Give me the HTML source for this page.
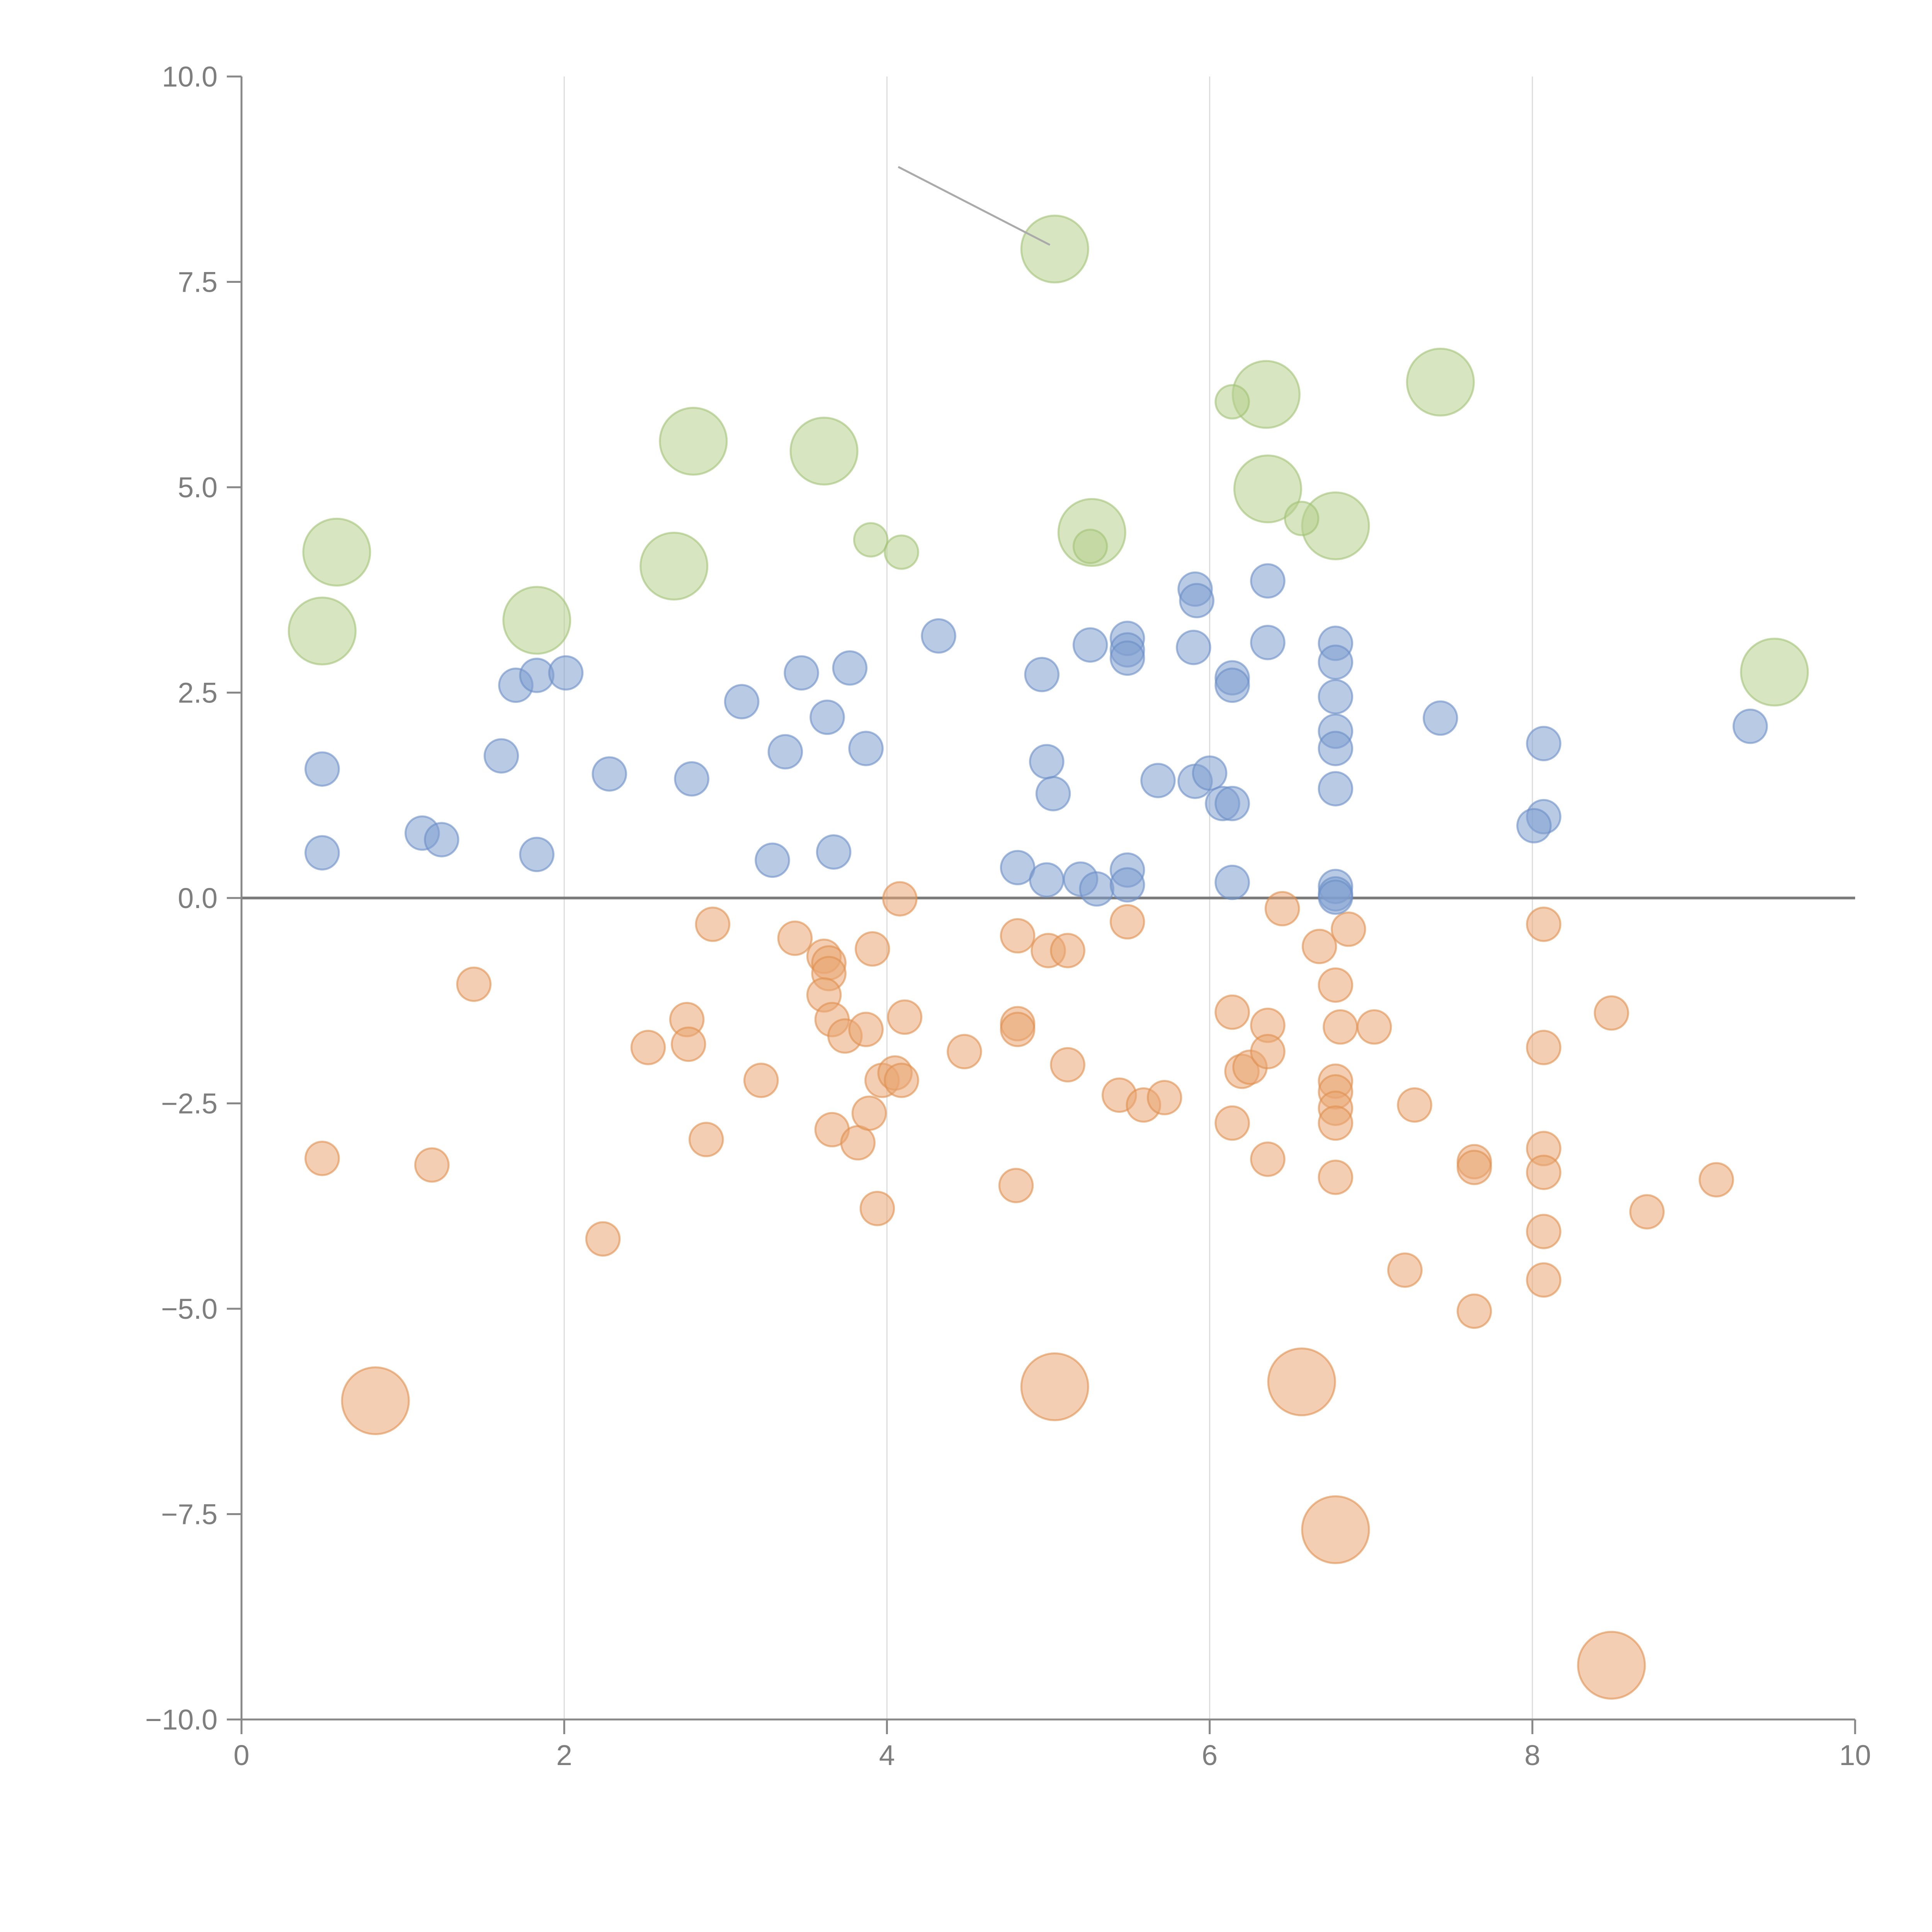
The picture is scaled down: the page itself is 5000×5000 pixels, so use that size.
<!DOCTYPE html>
<html><head><meta charset="utf-8"><style>
html,body{margin:0;padding:0;background:#fff;}
svg{display:block;font-family:"Liberation Sans",Arial,sans-serif;}
</style></head><body>
<svg id="chart" width="5000" height="5000" viewBox="0 0 5000 5000" xmlns="http://www.w3.org/2000/svg">
<g id="grid"></g>
<g id="marks"></g>
<g id="axes"></g>
</svg>
<script>
const xTicks=[0,2,4,6,8,10];
const yTicks=[10,7.5,5,2.5,0,-2.5,-5,-7.5,-10];
const yTickLabels=["10.0","7.5","5.0","2.5","0.0","\u22122.5","\u22125.0","\u22127.5","\u221210.0"];
const blueX=[0.5,0.5,1.12,1.24,1.61,1.7,1.83,2.01,1.83,2.28,2.79,3.1,3.37,3.47,3.29,3.63,3.77,3.87,3.67,4.32,4.96,4.99,5.03,4.81,4.99,5.2,5.3,5.26,5.49,5.49,5.49,5.49,5.49,5.68,5.9,5.91,5.92,5.91,6.0,6.08,6.14,6.14,6.14,6.14,6.36,6.36,6.78,6.78,6.78,6.78,6.78,6.78,6.78,6.78,6.78,7.43,8.07,8.07,8.01,9.35];
const blueY=[1.57,0.55,0.79,0.71,1.73,2.59,2.71,2.74,0.53,1.51,1.45,2.39,1.78,2.74,0.46,2.2,2.8,1.82,0.56,3.19,2.72,1.66,1.27,0.37,0.22,0.23,0.11,3.08,3.16,3.02,2.92,0.34,0.16,1.43,3.05,3.76,3.62,1.42,1.52,1.15,1.15,2.68,2.59,0.19,3.86,3.11,3.1,2.87,2.45,2.03,1.82,1.33,0.14,0.05,0.01,2.19,1.88,0.99,0.88,2.09];
const greenX=[0.59,0.5,1.83,2.68,2.8,3.61,5.04,5.27,6.35,6.36,6.78,7.43,9.5,3.9,4.09,5.26,6.14,6.57];
const greenY=[4.21,3.25,3.38,4.04,5.56,5.44,7.9,4.45,6.13,4.98,4.53,6.28,2.75,4.36,4.21,4.28,6.04,4.62];
const greenSize=[4,4,4,4,4,4,4,4,4,4,4,4,4,1,1,1,1,1];
const orangeX=[0.5,1.18,1.44,2.24,2.52,2.76,2.77,2.92,2.88,3.22,3.43,3.61,3.64,3.64,3.61,3.66,3.74,3.87,3.66,3.82,3.89,3.94,3.91,4.08,3.97,4.05,4.09,4.11,4.48,4.81,4.81,4.81,4.8,5.0,5.12,5.12,5.44,5.59,5.72,5.49,6.14,6.14,6.2,6.25,6.36,6.36,6.36,6.45,6.68,6.86,6.78,6.81,7.02,6.78,6.78,6.78,6.78,6.78,7.27,7.21,7.64,7.64,7.64,8.07,8.07,8.07,8.07,8.07,8.07,8.49,8.71,9.14,0.83,5.04,6.57,6.78,8.49];
const orangeY=[-3.17,-3.25,-1.05,-4.15,-1.82,-1.48,-1.78,-0.32,-2.94,-2.22,-0.49,-0.71,-0.79,-0.92,-1.18,-1.48,-1.68,-1.6,-2.82,-2.98,-2.62,-3.78,-0.62,-0.01,-2.22,-2.13,-2.22,-1.45,-1.87,-0.46,-1.53,-1.6,-3.5,-0.64,-0.64,-2.03,-2.4,-2.52,-2.43,-0.29,-1.39,-2.74,-2.11,-2.06,-1.55,-1.87,-3.18,-0.13,-0.59,-0.38,-1.06,-1.57,-1.57,-2.23,-2.36,-2.56,-2.74,-3.4,-2.52,-4.53,-3.21,-3.28,-5.03,-0.32,-1.82,-3.05,-3.34,-4.06,-4.65,-1.4,-3.82,-3.43,-6.12,-5.95,-5.89,-7.69,-9.34];
const orangeSize=[1,1,1,1,1,1,1,1,1,1,1,1,1,1,1,1,1,1,1,1,1,1,1,1,1,1,1,1,1,1,1,1,1,1,1,1,1,1,1,1,1,1,1,1,1,1,1,1,1,1,1,1,1,1,1,1,1,1,1,1,1,1,1,1,1,1,1,1,1,1,1,1,4,4,4,4,4];
const annoX=[4.07,5.01];
const annoY=[8.9,7.95];

const L=625,R=4801,T=198,B=4450;
const sx=v=>L+(v-0)/(10-0)*(R-L);
const sy=v=>B-(v+10)/20*(B-T);
const rs=s=>42*Math.sqrt(s)*1.03;
const NS="http://www.w3.org/2000/svg";
function mk(tag,attrs,parent){const e=document.createElementNS(NS,tag);for(const k in attrs)e.setAttribute(k,attrs[k]);parent.appendChild(e);return e;}
const grid=document.getElementById('grid'),marks=document.getElementById('marks'),axes=document.getElementById('axes');
xTicks.forEach(t=>{if(t>0&&t<10){const g=mk('line',{x1:sx(t),x2:sx(t),y1:T,y2:B,stroke:'#dcdcdc','stroke-width':3},grid);

}});
const zl=mk('line',{x1:sx(0),x2:sx(10),y1:sy(0),y2:sy(0),stroke:'#7a7a7a','stroke-width':7},grid);


function series(xs,ys,sizes,fill,stroke,name){xs.forEach((x,i)=>{const c=mk('circle',{cx:sx(x),cy:sy(ys[i]),r:rs(sizes?sizes[i]:1),fill:fill,'fill-opacity':0.55,stroke:stroke,'stroke-opacity':0.6,'stroke-width':5},marks);

});}
series(orangeX,orangeY,orangeSize,'#e9a673','#e0904f','orange-bubble');
series(blueX,blueY,null,'#7f9fcf','#6a8dc6','blue-bubble');
series(greenX,greenY,greenSize,'#b6d08c','#a2c175','green-bubble');
const an=mk('line',{x1:sx(annoX[0]),y1:sy(annoY[0]),x2:sx(annoX[1]),y2:sy(annoY[1]),stroke:'#aaaaaa','stroke-width':5},marks);


const ya=mk('line',{x1:L,x2:L,y1:T,y2:B,stroke:'#888','stroke-width':5},axes);


const xa=mk('line',{x1:L,x2:R,y1:B,y2:B,stroke:'#888','stroke-width':5},axes);


yTicks.forEach((t,i)=>{const tk=mk('line',{x1:L-38,x2:L,y1:sy(t),y2:sy(t),stroke:'#888','stroke-width':5},axes);


const tx=mk('text',{x:L-62,y:sy(t)+26,'text-anchor':'end','font-size':74,fill:'#7e7e7e'},axes);tx.textContent=yTickLabels[i];

});
xTicks.forEach(t=>{const tk=mk('line',{x1:sx(t),x2:sx(t),y1:B,y2:B+38,stroke:'#888','stroke-width':5},axes);


const tx=mk('text',{x:sx(t),y:B+118,'text-anchor':'middle','font-size':74,fill:'#7e7e7e'},axes);tx.textContent=String(t);

});
</script>
</body></html>
